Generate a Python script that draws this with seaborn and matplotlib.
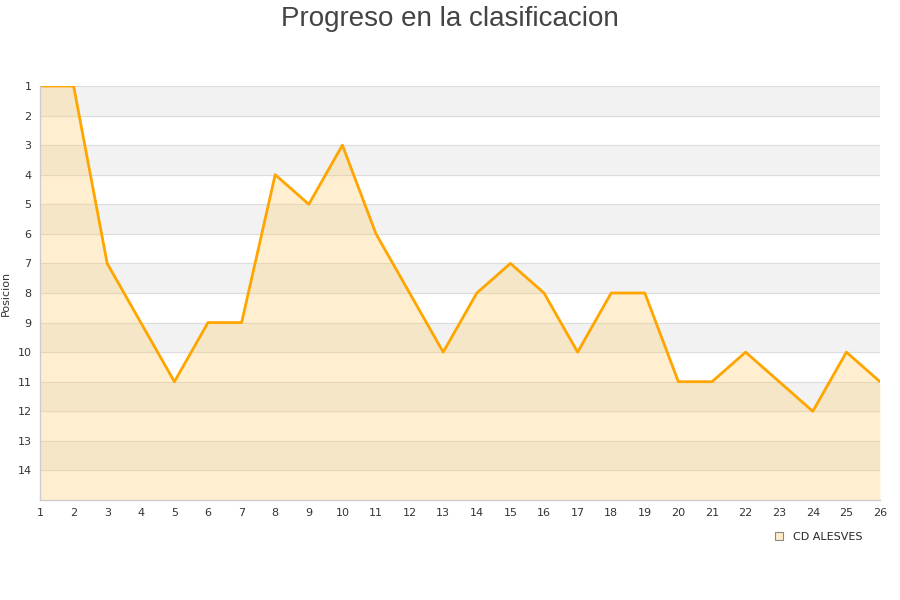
import numpy as np
import pandas as pd
import matplotlib
matplotlib.use("Agg")
import matplotlib.pyplot as plt
import seaborn as sns

jornadas = list(range(1, 27))
posiciones = [1, 1, 7, 9, 11, 9, 9, 4, 5, 3, 6, 8, 10, 8, 7, 8, 10, 8, 8, 11, 11, 10, 11, 12, 10, 11]
equipo = "CD ALESVES"
yticks = list(range(1, 15))


def main():
    sns.set_theme(style="white")
    plt.rcParams['font.family'] = ['DejaVu Sans']

    df = pd.DataFrame({"Jornada": jornadas, "Posicion": posiciones})

    fig = plt.figure(figsize=(9, 6), dpi=100)
    ax = fig.add_axes([40 / 900, 100 / 600, 840 / 900, 414 / 600])

    # alternating bands
    for y0 in range(1, 15, 2):
        ax.axhspan(y0, y0 + 1, color="#f2f2f2", zorder=0)
    for y in range(1, 16):
        ax.axhline(y, color="#dddddd", linewidth=0.8, zorder=0.5)

    ax.fill_between(df["Jornada"], df["Posicion"], 15, color="#ffcc66", alpha=0.3,
                    linewidth=0, zorder=1)
    sns.lineplot(data=df, x="Jornada", y="Posicion", color="#ffa500", linewidth=2,
                 ax=ax, zorder=2)

    ax.set_xlim(1, 26)
    ax.set_ylim(15, 1)
    ax.set_xticks(jornadas)
    ax.set_yticks(yticks)
    ax.tick_params(axis="both", labelsize=8, colors="#333333", length=0, pad=6)
    ax.set_xlabel("")
    ax.set_ylabel("Posicion", fontsize=8, color="#333333", labelpad=6)
    ax.yaxis.set_label_coords(-29 / 840, 0.5)

    for side in ["top", "right"]:
        ax.spines[side].set_visible(False)
    for side in ["left", "bottom"]:
        ax.spines[side].set_color("#cccccc")
        ax.spines[side].set_linewidth(1)

    fig.text(0.5, 1 - 19 / 600, "Progreso en la clasificacion", ha="center", va="center",
             fontsize=20, color="#444444", family=["Liberation Sans", "DejaVu Sans"])

    handle = plt.Line2D([], [], marker="s", linestyle="", markersize=6,
                        markerfacecolor="#ffecc8", markeredgecolor="#888888",
                        markeredgewidth=0.8)
    fig.legend([handle], [equipo], loc="center", bbox_to_anchor=(815 / 900, 1 - 537 / 600),
               frameon=False, fontsize=8, handletextpad=0.3)

    fig.savefig("out.png", dpi=100)
    plt.close(fig)


if __name__ == "__main__":
    main()
